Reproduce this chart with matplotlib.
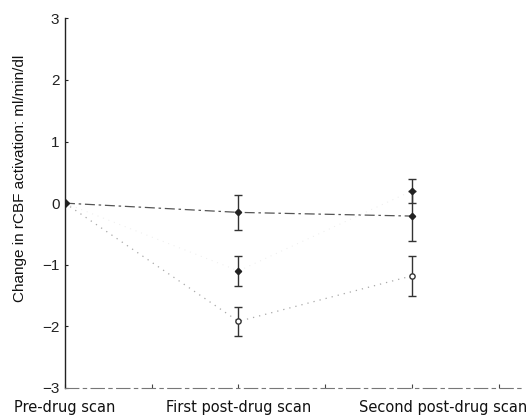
import matplotlib.pyplot as plt
from matplotlib.transforms import ScaledTranslation

plt.rcParams['font.family'] = ['Liberation Sans', 'DejaVu Sans']

scans = [0, 1, 2]
scan_labels = ['Pre-drug scan', 'First post-drug scan', 'Second post-drug scan']

# group means and standard errors (ml/min/dl)
group_a = [0.0, -0.15, -0.21]
group_a_err = [0.0, 0.29, 0.41]
group_b = [0.0, -1.10, 0.20]
group_b_err = [0.0, 0.24, 0.19]
group_c = [0.0, -1.92, -1.18]
group_c_err = [0.0, 0.24, 0.32]


def main():
    fig = plt.figure(figsize=(5.28, 4.18), dpi=100)
    ax = fig.add_axes([0.123, 0.072, 0.871, 0.884])

    # lines
    ax.plot(scans, group_a, color='#555555', lw=0.9, ls=(0, (8, 3, 2, 3)))
    ax.plot(scans, group_b, color='#ececec', lw=0.7, ls=(0, (1, 5)))
    ax.plot(scans, group_c, color='#a8a8a8', lw=0.9, ls=(0, (1, 4)))

    # error bars and points
    for y, e in [(group_a, group_a_err), (group_b, group_b_err), (group_c, group_c_err)]:
        ax.errorbar(scans[1:], y[1:], yerr=e[1:], fmt='none', ecolor='#333333',
                    elinewidth=1.0, capsize=3, capthick=1.0)
    ax.plot(scans[1:], group_a[1:], 'D', ms=3.2, color='#222222', mfc='#222222')
    ax.plot(scans[1:], group_b[1:], 'D', ms=3.2, color='#222222', mfc='#222222')
    ax.plot(scans[1:], group_c[1:], 'o', ms=3.8, color='#333333', mfc='white')
    ax.plot([0], [0], 'D', ms=3.8, color='#222222')

    ax.set_xlim(0, 2.65)
    ax.set_ylim(-3, 3)
    ax.set_yticks([-3, -2, -1, 0, 1, 2, 3])
    ax.set_yticklabels(['\u22123', '\u22122', '\u22121', '0', '1', '2', '3'])
    ax.set_xticks(scans)
    ax.set_xticklabels(scan_labels, family='DejaVu Sans')
    ax.set_xticks([0.5, 1.5, 2.5], minor=True)

    ax.spines['top'].set_visible(False)
    ax.spines['right'].set_visible(False)
    ax.spines['left'].set_color('#222222')
    ax.spines['left'].set_linewidth(1.0)
    ax.spines['bottom'].set_color('#777777')
    ax.spines['bottom'].set_linewidth(0.8)
    ax.spines['bottom'].set_linestyle((0, (12, 4, 3, 4)))

    ax.tick_params(axis='y', direction='in', length=2, width=0.8,
                   labelsize=11, pad=4, colors='#222222')
    ax.tick_params(axis='x', which='both', direction='in', length=3,
                   width=0.8, labelsize=10.5, pad=9, colors='#444444')
    for lab in ax.get_xticklabels():
        lab.set_color('#111111')
    last = ax.get_xticklabels()[-1]
    last.set_transform(last.get_transform() + ScaledTranslation(0.31, 0, fig.dpi_scale_trans))

    ax.set_ylabel('Change in rCBF activation: ml/min/dl', fontsize=11,
                  color='#111111')
    ax.yaxis.set_label_coords(-0.082, 0.566)

    fig.savefig('out.png', dpi=100)


if __name__ == '__main__':
    main()
